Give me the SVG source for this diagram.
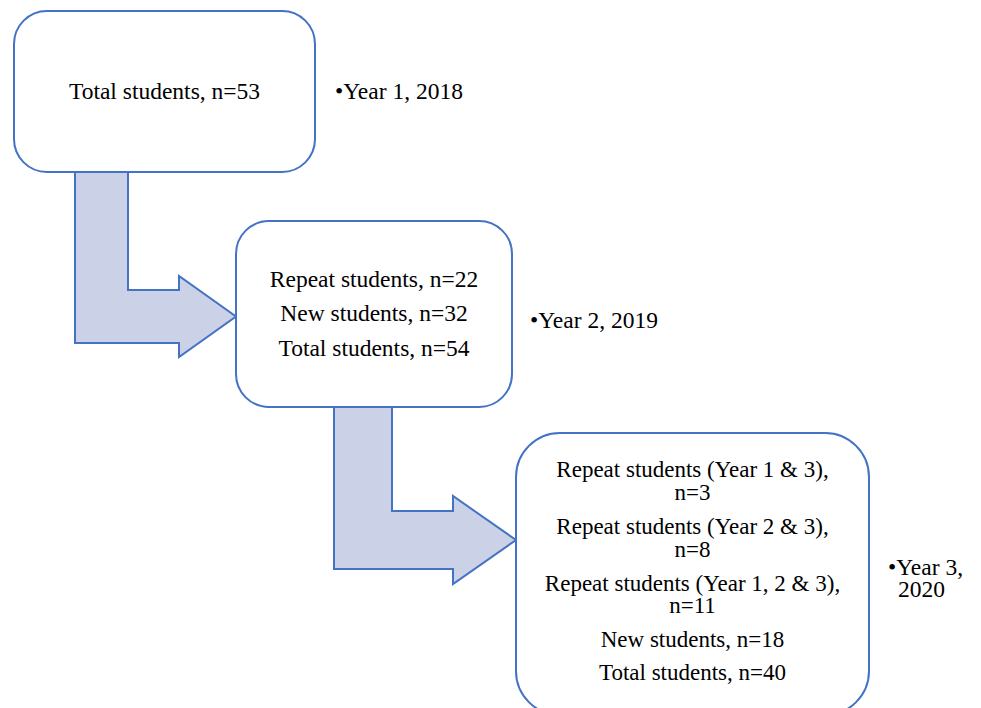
<svg xmlns="http://www.w3.org/2000/svg" width="981" height="708" viewBox="0 0 981 708">
<style>
.box{fill:#ffffff;stroke:#4472C4;stroke-width:2}
.arrow{fill:#CBD2E7;stroke:#4472C4;stroke-width:2;stroke-linejoin:miter}
text{font-family:"Liberation Serif","Times New Roman",serif;font-size:23.5px;fill:#000}
.c{text-anchor:middle}
.s{font-size:23px}
</style>
<rect width="981" height="708" fill="#ffffff"/>
<g id="connectors">
<path class="arrow" d="M75,172 L128,172 L128,290 L179,290 L179,276 L236,316.5 L179,357 L179,343 L75,343 Z"/>
<path class="arrow" d="M334,407 L392,407 L392,511 L453,511 L453,496 L516,540 L453,584 L453,569 L334,569 Z"/>
</g>
<g id="node-year1">
<rect class="box" x="14" y="11" width="301" height="161" rx="33" ry="33"/>
<text class="c" x="164.5" y="99">Total students, n=53</text>
</g>
<g id="node-year2">
<rect class="box" x="236" y="221" width="276" height="186" rx="33" ry="33"/>
<text class="c" x="374" y="287">Repeat students, n=22</text>
<text class="c" x="374" y="321">New students, n=32</text>
<text class="c" x="374" y="356">Total students, n=54</text>
</g>
<g id="node-year3">
<rect class="box" x="516" y="433" width="353" height="282" rx="44" ry="44"/>
<text class="c s" x="692.5" y="477">Repeat students (Year 1 &amp; 3),</text>
<text class="c s" x="692.5" y="500">n=3</text>
<text class="c s" x="692.5" y="534">Repeat students (Year 2 &amp; 3),</text>
<text class="c s" x="692.5" y="557">n=8</text>
<text class="c s" x="692.5" y="591">Repeat students (Year 1, 2 &amp; 3),</text>
<text class="c s" x="692.5" y="613">n=11</text>
<text class="c s" x="692.5" y="647">New students, n=18</text>
<text class="c s" x="692.5" y="680">Total students, n=40</text>
</g>
<g id="label-year1">
<text x="335" y="99">•Year 1, 2018</text>
</g>
<g id="label-year2">
<text x="530" y="328">•Year 2, 2019</text>
</g>
<g id="label-year3">
<text x="888" y="575">•Year 3,</text>
<text x="898" y="597">2020</text>
</g>
</svg>
